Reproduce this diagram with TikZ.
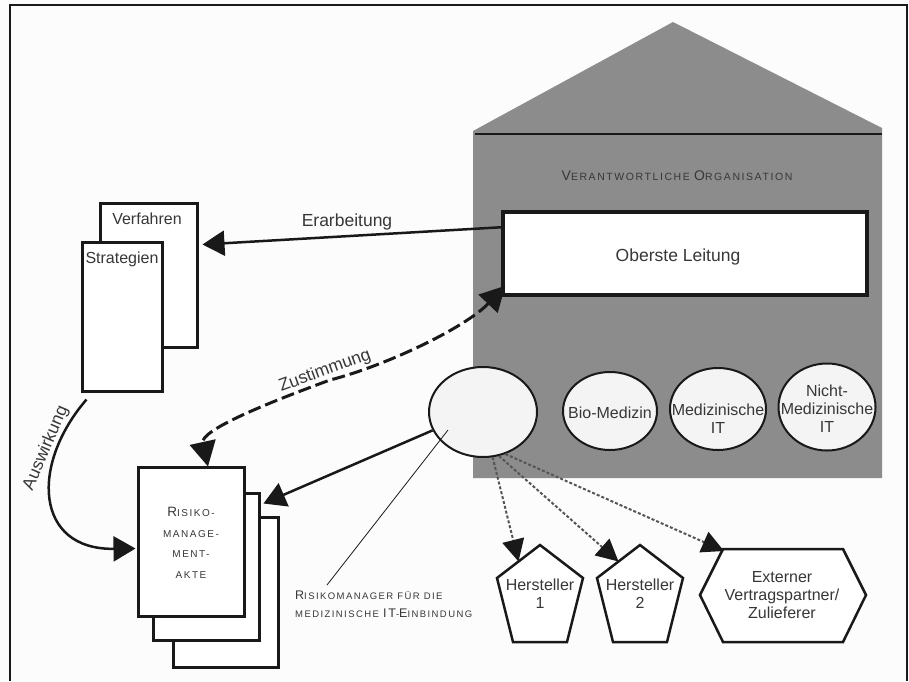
\documentclass[tikz,border=0pt]{standalone}
\usepackage{fontspec}
\setmainfont{Liberation Sans}
\newfontfamily\scfont[LetterSpace=15]{Liberation Sans}
\usetikzlibrary{arrows.meta,shapes.geometric,calc}
\definecolor{housegray}{RGB}{140,140,140}
\definecolor{ink}{RGB}{25,25,25}
\definecolor{txt}{RGB}{55,55,55}
\definecolor{paper}{RGB}{252,252,252}
\definecolor{ellfill}{RGB}{244,244,244}
\definecolor{dotgray}{RGB}{85,85,85}
\newcommand\Fs[2]{{\fontsize{#1}{#1}\selectfont #2}}
\begin{document}
\begin{tikzpicture}[x=1pt,y=-1pt,
  box/.style={draw=ink, line width=3pt, fill=white, inner sep=0pt},
  ell/.style={ellipse, draw=ink, line width=2pt, fill=ellfill, inner sep=0pt},
  shp/.style={draw=ink, line width=2.5pt, fill=white, line join=miter},
  lbl/.style={text=txt, inner sep=0pt, align=center, font=\fontsize{16}{18}\selectfont},
  arrlbl/.style={text=txt, inner sep=0pt, font=\fontsize{17.5}{20}\selectfont},
  arr/.style={draw=ink, line width=2.5pt, -{Triangle[length=22pt,width=25pt]}},
  dasharr/.style={draw=ink, line width=3pt, dash pattern=on 13pt off 5pt,
     {Triangle[length=25pt,width=26pt]}-{Triangle[length=25pt,width=26pt]}},
  dotarr/.style={draw=dotgray, line width=2pt, dash pattern=on 3pt off 2pt,
     -{Triangle[length=22pt,width=22pt,color=ink]}},
  thinline/.style={draw=ink, line width=0.8pt}
]
\useasboundingbox (0,0) rectangle (909,681);
\fill[paper] (0,0) rectangle (909,681);
\draw[ink, line width=1.5pt] (10,681) -- (10,5) -- (907,5) -- (907,681);

% house
\fill[housegray] (473,478) -- (473,131) -- (673,22) -- (882,128) -- (882,478) -- cycle;
\draw[ink, line width=2pt] (475,134) -- (882,134);
\node[text=txt, inner sep=0pt] (title) at (677,176)
  {\scfont\Fs{14}{V}\Fs{10.5}{ERANTWORTLICHE} \Fs{14}{O}\Fs{10.5}{RGANISATION}};

% Oberste Leitung
\node[box, line width=3.5pt, minimum width=364pt, minimum height=83pt] (ol) at (685,253.5) {};
\node[arrlbl] (olt) at (678,257) {Oberste Leitung};

% Verfahren / Strategien
\node[box, minimum width=97pt, minimum height=144pt] (verf) at (148.5,275) {};
\node[lbl] (verft) at (147,219) {Verfahren};
\node[box, minimum width=80pt, minimum height=149pt] (strat) at (122,316.5) {};
\node[lbl] (stratt) at (122,259) {Strategien};

% Risk file stack
\node[box, minimum width=105pt, minimum height=150pt] (rf3) at (225.5,592) {};
\node[box, minimum width=106pt, minimum height=147pt] (rf2) at (206,566.5) {};
\node[box, minimum width=106pt, minimum height=149pt] (rf) at (191,541.5) {};
\node[text=txt, inner sep=0pt, align=center, font=\scfont\fontsize{10}{20.5}\selectfont] (rft) at (191,543)
  {\Fs{13.5}{R}ISIKO-\\MANAGE-\\MENT-\\AKTE};

% ellipses
\node[ell, minimum width=108pt, minimum height=90pt] (rm) at (483,412) {};
\node[ell, minimum width=94pt, minimum height=78pt] (bio) at (610,411) {};
\node[lbl] (biot) at (610,413) {Bio-Medizin};
\node[ell, minimum width=96pt, minimum height=82pt] (med) at (718,409) {};
\node[lbl] (medt) at (718,419) {Medizinische\\IT};
\node[ell, minimum width=97pt, minimum height=87pt] (nmed) at (827,407) {};
\node[lbl] (nmedt) at (827,409) {Nicht-\\Medizinische\\IT};

% Hersteller pentagons
\coordinate (h1a) at (540,545); \coordinate (h1b) at (583,578); \coordinate (h1c) at (567,642);
\coordinate (h1d) at (513,642); \coordinate (h1e) at (497,578);
\draw[shp] (h1a) -- (h1b) -- (h1c) -- (h1d) -- (h1e) -- cycle;
\node[lbl] (h1t) at (540,594) {Hersteller\\1};
\coordinate (h2a) at (640,545); \coordinate (h2b) at (683,578); \coordinate (h2c) at (667,642);
\coordinate (h2d) at (613,642); \coordinate (h2e) at (597,578);
\draw[shp] (h2a) -- (h2b) -- (h2c) -- (h2d) -- (h2e) -- cycle;
\node[lbl] (h2t) at (640,594) {Hersteller\\2};
% hexagon
\coordinate (xa) at (700,595); \coordinate (xb) at (723,549); \coordinate (xc) at (843,549);
\coordinate (xd) at (866,595); \coordinate (xe) at (843,642); \coordinate (xf) at (723,642);
\draw[shp] (xa) -- (xb) -- (xc) -- (xd) -- (xe) -- (xf) -- cycle;
\node[lbl] (xt) at (782,595) {Externer\\Vertragspartner/\\Zulieferer};

% label of risk manager
\node[text=txt, inner sep=0pt, anchor=west, align=left, font=\scfont\fontsize{9.5}{18}\selectfont] (rml) at (295,604)
  {\Fs{12.5}{R}ISIKOMANAGER FÜR DIE\\MEDIZINISCHE \Fs{12.5}{IT}-\Fs{12.5}{E}INBINDUNG};
\coordinate (rmin) at (448,430);
\coordinate (rmlend) at (327,585);
\draw[thinline] (rmin) -- (rmlend);

% connectors
\draw[arr] ($(ol.north west)+(0,17)$) -- ($(verf.north east)+(4,43)$);
\node[arrlbl] (erl) at (347,222) {Erarbeitung};

\coordinate (zmid) at (330,380);
\draw[dasharr] ($(ol.south west)+(4,-11)$) .. controls (465,328) and (385,366) .. (zmid)
   .. controls (270,402) and (200,430) .. ($(rf.north)+(17,1)$);
\node[arrlbl, rotate=20] (zul) at (325,371) {Zustimmung};

\draw[arr] ($(strat.south west)+(6,7)$) .. controls (30,465) and (35,550) .. ($(rf.west)+(-1,7)$);
\node[arrlbl, rotate=67] (awl) at (46,448) {Auswirkung};

\draw[arr] (rm.200) -- ($(rf2.north east)+(3,12)$);

\draw[dotarr] (rm.-78) -- ($(h1a)!0.5!(h1e)$);
\draw[dotarr] (rm.-70) -- ($(h2a)!0.5!(h2e)$);
\draw[dotarr] (rm.-62) -- ($(xb)+(1,2)$);
\end{tikzpicture}
\end{document}
